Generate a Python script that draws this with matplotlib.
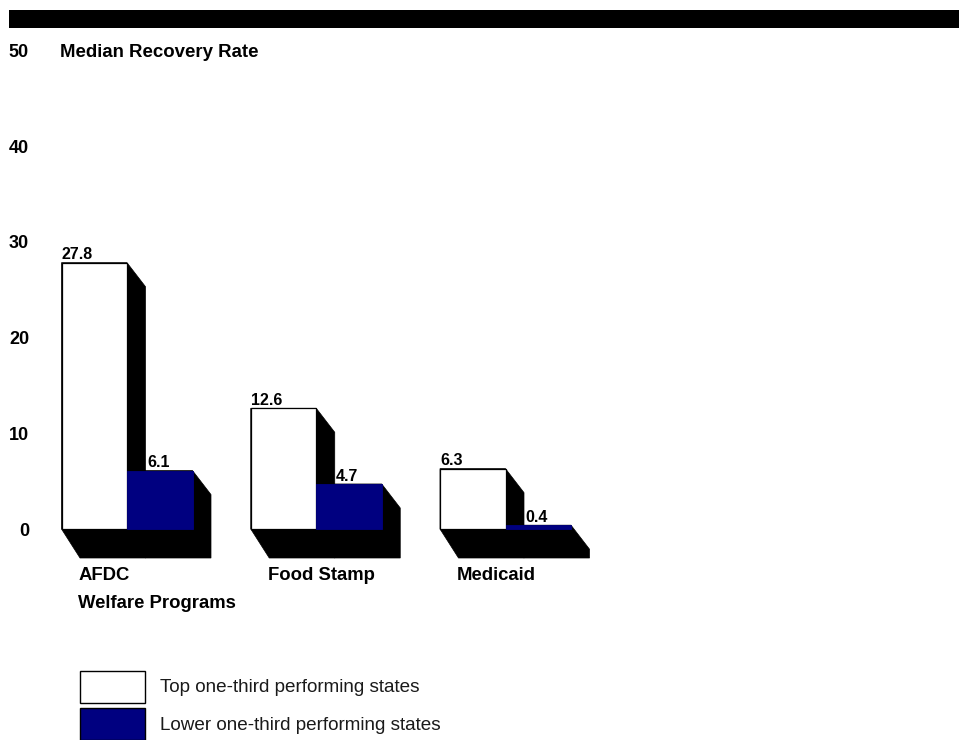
import numpy as np
import matplotlib.pyplot as plt
from matplotlib.patches import Polygon, Rectangle
from matplotlib.transforms import blended_transform_factory

plt.rcParams["font.family"] = ["Liberation Sans", "DejaVu Sans"]

# ---- data ----
programs = ["AFDC", "Food Stamp", "Medicaid"]
top_third = [27.8, 12.6, 6.3]
lower_third = [6.1, 4.7, 0.4]
y_ticks = [0, 10, 20, 30, 40, 50]
axis_title = "Median Recovery Rate"
x_title = "Welfare Programs"
legend_labels = ["Top one-third performing states", "Lower one-third performing states"]

W, H = 959, 740
WHITE = "#FFFFFF"
NAVY = "#000080"

fig = plt.figure(figsize=(W / 100, H / 100), dpi=100)

# axes geometry (pixels): value 0 at y=529, 9.58 px per unit, groups 189.25 px apart
px_unit = 9.58
px_group = 189.25
y_lo, y_hi = -5, 55
ax_bottom = (H - (529 + (0 - y_lo) * px_unit)) / H
ax_height = (y_hi - y_lo) * px_unit / H
ax = fig.add_axes([0, ax_bottom, 1, ax_height])
ax.set_xlim(-127 / px_group, (W - 127) / px_group)
ax.set_ylim(y_lo, y_hi)
ax.axis("off")

x = np.arange(len(programs))
w = 65.5 / px_group
dx = 18.5 / px_group        # shadow depth, horizontal
dy_side = 24 / px_unit      # shadow depth, side faces
dy_floor = 29 / px_unit     # shadow depth, floor


def shadow(x0, x1, h):
    pts = [(x0, h), (x1, h), (x1 + dx, h - dy_side), (x1 + dx, -dy_floor),
           (x0 + dx, -dy_floor), (x0, 0)]
    ax.add_patch(Polygon(pts, closed=True, facecolor="black", edgecolor="black",
                         lw=0.5, zorder=2))


for xi, t, l in zip(x, top_third, lower_third):
    shadow(xi - w, xi, t)
    shadow(xi, xi + w, l)

ax.bar(x - w, top_third, width=w, align="edge", color=WHITE,
       edgecolor="black", linewidth=0.9, zorder=3)
ax.bar(x, lower_third, width=w, align="edge", color=NAVY,
       edgecolor=NAVY, linewidth=0.6, zorder=3)

# value labels
for xi, t, l in zip(x, top_third, lower_third):
    ax.annotate(f"{t:.1f}", (xi - w, t), xytext=(0, 2.5), textcoords="offset points",
                ha="left", va="baseline", fontsize=11.5, fontweight="bold")
    ax.annotate(f"{l:.1f}", (xi + 20 / px_group, l), xytext=(0, 2.5),
                textcoords="offset points", ha="left", va="baseline",
                fontsize=11.5, fontweight="bold")

# category labels
for xi, name in zip(x, programs):
    ax.text(xi - w + 17 / px_group, -46 / px_unit, name, ha="left", va="center",
            fontsize=13.3, fontweight="bold")
ax.text(x[0] - w + 17 / px_group, -75 / px_unit, x_title, ha="left", va="center",
        fontsize=13.3, fontweight="bold")

# y tick labels and title
trans = blended_transform_factory(fig.transFigure, ax.transData)
for v in y_ticks:
    ax.text(29 / W, v - 0.25, str(v), transform=trans, ha="right", va="center",
            fontsize=13, fontweight="bold")
ax.text(60 / W, y_ticks[-1] - 0.25, axis_title, transform=trans, ha="left",
        va="center", fontsize=13.4, fontweight="bold")

# top black band
fig.add_artist(Rectangle((9 / W, 1 - 28 / H), (W - 9) / W, 18 / H,
                         transform=fig.transFigure, facecolor="black",
                         edgecolor="none"))

# legend
for i, (lab, col) in enumerate(zip(legend_labels, [WHITE, NAVY])):
    top_px = 671 + i * 37
    fig.add_artist(Rectangle((80 / W, 1 - (top_px + 32) / H), 65 / W, 32 / H,
                             transform=fig.transFigure, facecolor=col,
                             edgecolor="black", linewidth=1))
    fig.text(160 / W, 1 - (top_px + 17) / H, lab, ha="left", va="center",
             fontsize=13.6, color="#1a1a1a")

fig.savefig("out.png", dpi=100)
